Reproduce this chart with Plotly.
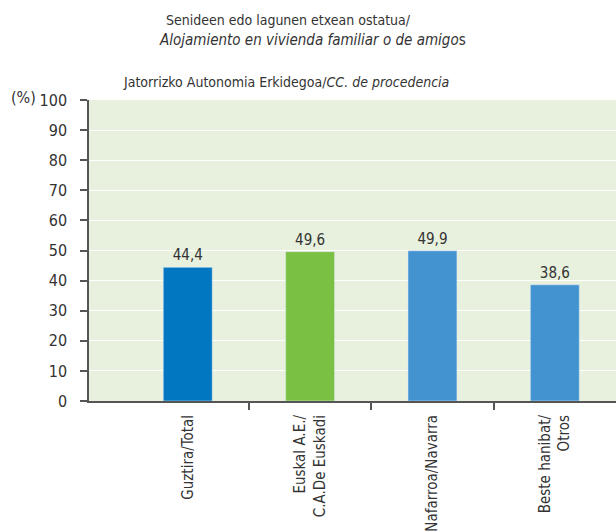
import plotly.graph_objects as go

categories = ["Guztira/Total", "Euskal A.E./<br>C.A.De Euskadi", "Nafarroa/Navarra", "Beste hanibat/<br>Otros"]
values = [44.4, 49.6, 49.9, 38.6]
value_labels = ["44,4", "49,6", "49,9", "38,6"]
bar_colors = ["#0077C0", "#7AC143", "#4393D1", "#4393D1"]
y_ticks = [0, 10, 20, 30, 40, 50, 60, 70, 80, 90, 100]

FONT = "DejaVu Sans Condensed, Liberation Sans Narrow, sans-serif"
TXT = "#333333"
FS = 14

W, H = 616, 532
PL, PT, PB = 89, 100, 401  # plot area edges in page pixels
PW = W - PL
PH = PB - PT

xpos = list(range(len(categories)))

fig = go.Figure()
fig.add_trace(go.Bar(
    x=xpos, y=values, marker_color=bar_colors, width=0.4,
    text=value_labels, textposition="outside", cliponaxis=False,
    textfont=dict(family=FONT, size=FS + 1, color=TXT),
    showlegend=False, hoverinfo="skip",
))
fig.add_trace(go.Scatter(x=xpos, y=[0]*4, xaxis="x2", mode="markers",
                         marker=dict(opacity=0), showlegend=False, hoverinfo="skip"))

fig.update_layout(
    width=W, height=H,
    margin=dict(l=PL, r=0, t=PT, b=H - PB, autoexpand=False),
    paper_bgcolor="white", plot_bgcolor="#E8F0DE",
    font=dict(family=FONT, size=FS, color=TXT),
    xaxis=dict(range=[-0.807, 3.5], tickvals=[0.5, 1.5, 2.5], ticktext=["", "", ""],
               ticks="outside", ticklen=7, tickcolor="#555", tickwidth=1.5,
               showline=True, linecolor="#555", linewidth=1.5, showgrid=False,
               zeroline=False, automargin=False),
    xaxis2=dict(range=[-0.807, 3.5], overlaying="x", side="bottom", tickvals=xpos,
                ticktext=categories, tickangle=-90, ticks="", showgrid=False,
                showline=False, zeroline=False, ticklabelstandoff=10, automargin=False,
                tickfont=dict(family=FONT, size=FS + 1, color=TXT)),
    yaxis=dict(range=[0, 100], tickvals=y_ticks, ticks="outside", ticklen=7,
               tickcolor="#555", tickwidth=1.5, showline=True, linecolor="#555",
               linewidth=1.5, gridcolor="white", gridwidth=1, zeroline=False,
               automargin=False, ticklabelstandoff=10,
               tickfont=dict(family=FONT, size=FS + 2, color=TXT)),
)

def note(text, px, py, size=FS):
    fig.add_annotation(text=text, xref="paper", yref="paper",
                       x=(px - PL) / PW, y=(PB - py) / PH, showarrow=False,
                       font=dict(family=FONT, size=size, color=TXT),
                       xanchor="center", yanchor="middle")

note("Senideen edo lagunen etxean ostatua/", 288, 20)
note("<i>Alojamiento en vivienda familiar o de amigo</i>s", 312, 40, FS + 1)
note("Jatorrizko Autonomia Erkidegoa/<i>CC. de procedencia</i>", 286, 82)
note("(%)", 23, 97, FS + 2)

fig.write_html("out.html",
               config={"displayModeBar": False},
               post_script="document.body.style.margin='0';document.body.style.overflow='hidden';")
